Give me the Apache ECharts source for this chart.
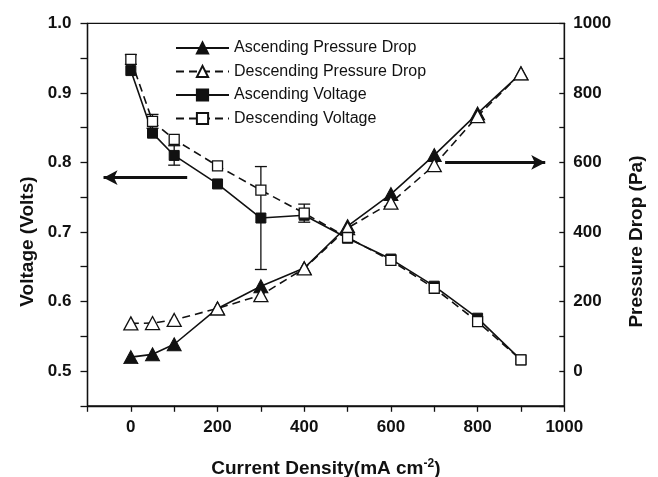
<!DOCTYPE html>
<html>
<head>
<meta charset="utf-8">
<script src="https://cdn.jsdelivr.net/npm/echarts@6/dist/echarts.min.js"></script>
<style>
html,body{margin:0;padding:0;background:#fff;}
#chart{width:658px;height:477px;}
</style>
</head>
<body>
<div id="chart"></div>
<script>
// ---- data ----
const currentDensity = [0, 50, 100, 200, 300, 400, 500, 600, 700, 800, 900];
const ascVoltage  = [0.932, 0.842, 0.810, 0.769, 0.720, 0.724, 0.691, 0.661, 0.622, 0.576, 0.516];
const descVoltage = [0.948, 0.859, 0.833, 0.795, 0.760, 0.727, 0.692, 0.659, 0.619, 0.571, 0.516];
const ascVoltageErr  = [0, 0, 0.014, 0, 0.074, 0, 0, 0, 0, 0, 0];
const descVoltageErr = [0.007, 0.010, 0, 0, 0, 0.013, 0, 0, 0, 0, 0];
const ascPressure  = [40, 48, 77, 180, 244, 296, 417, 509, 621, 741, 856];
const descPressure = [137, 138, 147, 180, 218, 295, 411, 484, 592, 733, 856];
const seriesNames = ['Ascending Pressure Drop', 'Descending Pressure Drop', 'Ascending Voltage', 'Descending Voltage'];
// annotation arrows (data units)
const voltageArrow = [[130, 0.778], [-63, 0.778]];
const pressureArrow = [[725, 600], [956, 600]];

const FONT = 'Arial, "Liberation Sans", sans-serif';
const BLACK = '#111';

function pairs(xs, ys) { return xs.map((x, i) => [x, ys[i]]); }
function errData(xs, ys, es) {
  const out = [];
  xs.forEach((x, i) => { if (es[i] > 0) out.push([x, ys[i] - es[i], ys[i] + es[i]]); });
  return out;
}

const chart = echarts.init(document.getElementById('chart'), null, {renderer: 'canvas'});

function errorBarSeries(data) {
  return {
    type: 'custom',
    xAxisIndex: 0, yAxisIndex: 0,
    silent: true, z: 1,
    data: data,
    encode: {x: 0, y: [1, 2]},
    renderItem: function (params, api) {
      const x = api.value(0);
      const lo = api.coord([x, api.value(1)]);
      const hi = api.coord([x, api.value(2)]);
      const hw = 6;
      const st = {stroke: BLACK, lineWidth: 1.3};
      return {
        type: 'group',
        children: [
          {type: 'line', shape: {x1: lo[0], y1: lo[1], x2: hi[0], y2: hi[1]}, style: st},
          {type: 'line', shape: {x1: lo[0] - hw, y1: lo[1], x2: lo[0] + hw, y2: lo[1]}, style: st},
          {type: 'line', shape: {x1: hi[0] - hw, y1: hi[1], x2: hi[0] + hw, y2: hi[1]}, style: st}
        ]
      };
    }
  };
}

const labelStyle = {color: BLACK, fontFamily: FONT, fontWeight: 'bold', fontSize: 17};
const nameStyle = {color: BLACK, fontFamily: FONT, fontWeight: 'bold', fontSize: 19};

const option = {
  animation: false,
  backgroundColor: '#fff',
  grid: {left: 87.5, right: 93.7, top: 23.3, bottom: 71.2, containLabel: false, outerBoundsMode: 'none',
         show: true, borderColor: BLACK, borderWidth: 1.3, backgroundColor: 'transparent'},
  legend: {
    orient: 'vertical',
    left: 170, top: 35,
    itemWidth: 53, itemHeight: 14, itemGap: 7.5,
    data: seriesNames,
    textStyle: {color: BLACK, fontFamily: FONT, fontSize: 16},
    selectedMode: false
  },
  xAxis: {
    type: 'value', min: -100, max: 1000, interval: 100,
    splitLine: {show: false},
    axisLine: {show: true, onZero: false, lineStyle: {color: BLACK, width: 1.3}},
    axisTick: {show: true, length: 6, lineStyle: {color: BLACK, width: 1.3}},
    axisLabel: Object.assign({margin: 13, formatter: v => (v >= 0 && v % 200 === 0) ? String(v) : ''}, labelStyle),
    name: 'Current Density(mA cm{sup|-2})',
    nameLocation: 'middle', nameGap: 52,
    nameTextStyle: Object.assign({rich: {sup: {fontFamily: FONT, fontWeight: 'bold', fontSize: 12, color: BLACK, verticalAlign: 'top', padding: [0, 0, 10, 0]}}}, nameStyle)
  },
  yAxis: [
    {
      type: 'value', min: 0.45, max: 1.0, interval: 0.05, position: 'left',
      splitLine: {show: false},
      axisLine: {show: true, onZero: false, lineStyle: {color: BLACK, width: 1.3}},
      axisTick: {show: true, length: 7, lineStyle: {color: BLACK, width: 1.3}},
      axisLabel: Object.assign({margin: 16, formatter: v => {
        const r = Math.round(v * 100);
        return (r >= 50 && r % 10 === 0) ? (r / 100).toFixed(1) : '';
      }}, labelStyle),
      name: 'Voltage (Volts)', nameLocation: 'middle', nameGap: 50, nameRotate: 90,
      nameTextStyle: Object.assign({padding: [0, 54, 0, 0]}, nameStyle)
    },
    {
      type: 'value', min: -100, max: 1000, interval: 100, position: 'right',
      splitLine: {show: false},
      axisLine: {show: true, onZero: false, lineStyle: {color: BLACK, width: 1.3}},
      axisTick: {show: true, inside: true, length: 5, lineStyle: {color: BLACK, width: 1.3}},
      axisLabel: Object.assign({margin: 9, formatter: v => (v >= 0 && v % 200 === 0) ? String(v) : ''}, labelStyle),
      name: 'Pressure Drop (Pa)', nameLocation: 'middle', nameGap: 63, nameRotate: 90,
      nameTextStyle: Object.assign({padding: [0, 54, 0, 0]}, nameStyle)
    }
  ],
  series: [
    {
      name: seriesNames[0], type: 'line', yAxisIndex: 1, z: 3,
      data: pairs(currentDensity, ascPressure),
      symbol: 'triangle', symbolSize: [14, 13],
      itemStyle: {color: BLACK, borderColor: BLACK, borderWidth: 1},
      lineStyle: {color: BLACK, width: 1.6, type: 'solid'},
      markLine: {
        silent: true, symbol: ['none', 'arrow'], symbolSize: [11, 14],
        label: {show: false},
        lineStyle: {color: BLACK, width: 3.2, type: 'solid'},
        data: [[{coord: pressureArrow[0]}, {coord: pressureArrow[1]}]]
      }
    },
    {
      name: seriesNames[1], type: 'line', yAxisIndex: 1, z: 4,
      data: pairs(currentDensity, descPressure),
      symbol: 'triangle', symbolSize: [14, 13],
      itemStyle: {color: '#fff', borderColor: BLACK, borderWidth: 1.3},
      lineStyle: {color: BLACK, width: 1.6, type: [8, 5]}
    },
    {
      name: seriesNames[2], type: 'line', yAxisIndex: 0, z: 3,
      data: pairs(currentDensity, ascVoltage),
      symbol: 'rect', symbolSize: 10,
      itemStyle: {color: BLACK, borderColor: BLACK, borderWidth: 1},
      lineStyle: {color: BLACK, width: 1.6, type: 'solid'},
      markLine: {
        silent: true, symbol: ['none', 'arrow'], symbolSize: [11, 14],
        label: {show: false},
        lineStyle: {color: BLACK, width: 3.2, type: 'solid'},
        data: [[{coord: voltageArrow[0]}, {coord: voltageArrow[1]}]]
      }
    },
    {
      name: seriesNames[3], type: 'line', yAxisIndex: 0, z: 4,
      data: pairs(currentDensity, descVoltage),
      symbol: 'rect', symbolSize: 10,
      itemStyle: {color: '#fff', borderColor: BLACK, borderWidth: 1.3},
      lineStyle: {color: BLACK, width: 1.6, type: [8, 5]}
    },
    errorBarSeries(errData(currentDensity, ascVoltage, ascVoltageErr)),
    errorBarSeries(errData(currentDensity, descVoltage, descVoltageErr))
  ]
};
chart.setOption(option);
</script>
</body>
</html>
